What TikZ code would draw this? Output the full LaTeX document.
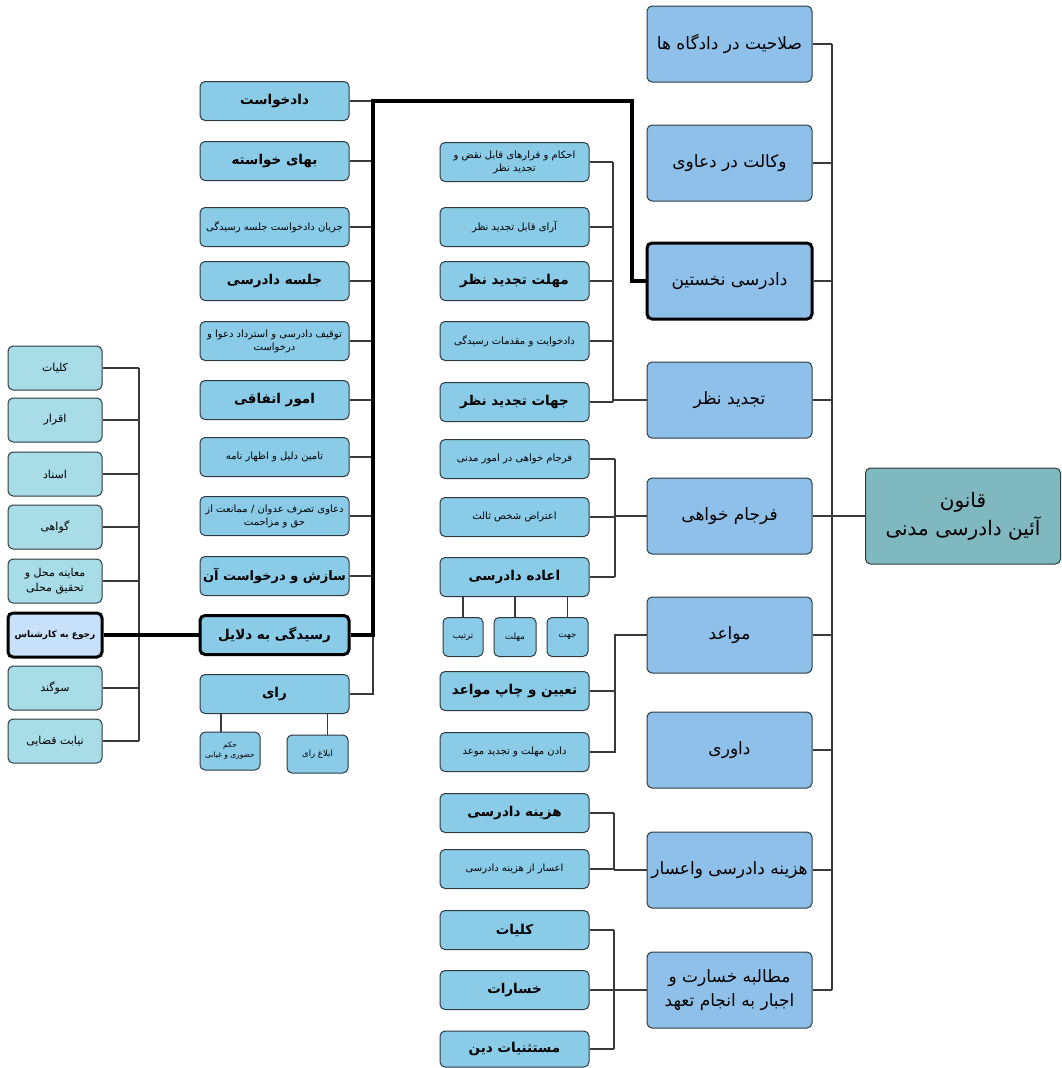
\documentclass[tikz,border=0pt]{standalone}
\usepackage{fontspec}
\newfontfamily\arabicfont[Script=Arabic]{DejaVu Sans}
\TeXXeTstate=1
\newcommand\fa[1]{\beginR #1\endR}
\usetikzlibrary{calc}
\definecolor{edge}{HTML}{2E3A40}
\definecolor{lnc}{HTML}{3A3A3A}
\definecolor{cOne}{HTML}{A8DCE6}
\definecolor{cTwo}{HTML}{8ACCE8}
\definecolor{cFour}{HTML}{8FC0E9}
\definecolor{cRoot}{HTML}{80B8C0}
\definecolor{cSel}{HTML}{C8E1FA}
\begin{document}
\begin{tikzpicture}[x=1pt,y=-1pt,
  box/.style={draw=edge, line width=1pt, rounded corners=5pt, inner sep=1pt, align=center},
  thickbox/.style={box, draw=black, line width=3pt},
  one/.style={box, fill=cOne, minimum width=94pt, minimum height=44pt},
  two/.style={box, fill=cTwo, minimum width=149pt, minimum height=39pt},
  four/.style={box, fill=cFour, minimum width=165pt, minimum height=76pt, font=\arabicfont\fontsize{17}{24}\selectfont},
  fbig/.style={font=\arabicfont\bfseries\fontsize{13.5}{16}\selectfont},
  fsm/.style={font=\arabicfont\fontsize{10}{13}\selectfont},
  fone/.style={font=\arabicfont\fontsize{11}{15}\selectfont},
  ftiny/.style={font=\arabicfont\fontsize{8.5}{10.5}\selectfont},
  ln/.style={draw=lnc, line width=1.1pt},
  thk/.style={draw=black, line width=3.5pt, line join=miter}]
\useasboundingbox[fill=white] (0,0) rectangle (1062,1068);

% ---------- root ----------
\node[box, fill=cRoot, minimum width=195pt, minimum height=96pt, font=\arabicfont\fontsize{20}{28}\selectfont] (root) at (963,516) {\fa{قانون}\\\fa{آئین دادرسی مدنی}};

% ---------- column 4 ----------
\node[four] (s1) at (729.5,44) {\fa{صلاحیت در دادگاه ها}};
\node[four] (s2) at (729.5,163) {\fa{وکالت در دعاوی}};
\node[four, thickbox] (s3) at (729.5,281) {\fa{دادرسی نخستین}};
\node[four] (s4) at (729.5,400) {\fa{تجدید نظر}};
\node[four] (s5) at (729.5,516) {\fa{فرجام خواهی}};
\node[four] (s6) at (729.5,635) {\fa{مواعد}};
\node[four] (s7) at (729.5,750) {\fa{داوری}};
\node[four] (s8) at (729.5,870) {\fa{هزینه دادرسی واعسار}};
\node[four] (s9) at (729.5,990) {\fa{مطالبه خسارت و}\\\fa{اجبار به انجام تعهد}};

% ---------- column 3 ----------
\node[two, fsm] (t1) at (514.5,162) {\fa{احکام و قرارهای قابل نقض و}\\\fa{تجدید نظر}};
\node[two, fsm] (t2) at (514.5,227) {\fa{آرای قابل تجدید نظر}};
\node[two, fbig] (t3) at (514.5,281) {\fa{مهلت تجدید نظر}};
\node[two, fsm] (t4) at (514.5,341) {\fa{دادخوایت و مقدمات رسیدگی}};
\node[two, fbig] (t5) at (514.5,402) {\fa{جهات تجدید نظر}};
\node[two, fsm] (f1) at (514.5,459) {\fa{فرجام خواهی در امور مدنی}};
\node[two, fsm] (f2) at (514.5,517) {\fa{اعتراض شخص ثالث}};
\node[two, fbig] (f3) at (514.5,577) {\fa{اعاده دادرسی}};
\node[box, fill=cTwo, minimum width=41pt, minimum height=39pt, ftiny] (e1) at (567.5,637) {\fa{جهت}};
\node[box, fill=cTwo, minimum width=42pt, minimum height=39pt, ftiny] (e2) at (515,637) {\fa{مهلت}};
\node[box, fill=cTwo, minimum width=40pt, minimum height=39pt, ftiny] (e3) at (463,637) {\fa{ترتیب}};
\node[two, fbig] (m1) at (514.5,691) {\fa{تعیین و چاپ مواعد}};
\node[two, fsm] (m2) at (514.5,752) {\fa{دادن مهلت و تجدید موعد}};
\node[two, fbig] (h1) at (514.5,813) {\fa{هزینه دادرسی}};
\node[two, fsm] (h2) at (514.5,869) {\fa{اعسار از هزینه دادرسی}};
\node[two, fbig] (k1) at (514.5,930) {\fa{کلیات}};
\node[two, fbig] (k2) at (514.5,990) {\fa{خسارات}};
\node[two, fbig, minimum height=36pt] (k3) at (514.5,1049) {\fa{مستثنیات دین}};

% ---------- column 2 ----------
\node[two, fbig] (d1) at (274.5,101) {\fa{دادخواست}};
\node[two, fbig] (d2) at (274.5,161) {\fa{بهای خواسته}};
\node[two, fsm] (d3) at (274.5,227) {\fa{جریان دادخواست جلسه رسیدگی}};
\node[two, fbig] (d4) at (274.5,281) {\fa{جلسه دادرسی}};
\node[two, fsm] (d5) at (274.5,341) {\fa{توقیف دادرسی و استرداد دعوا و}\\\fa{درخواست}};
\node[two, fbig] (d6) at (274.5,400) {\fa{امور اتفاقی}};
\node[two, fsm] (d7) at (274.5,457) {\fa{تامین دلیل و اظهار نامه}};
\node[two, fsm] (d8) at (274.5,516) {\fa{دعاوی تصرف عدوان / ممانعت از}\\\fa{حق و مزاحمت}};
\node[two, font=\arabicfont\bfseries\fontsize{13}{16}\selectfont] (d9) at (274.5,576) {\fa{سازش و درخواست آن}};
\node[two, fbig, thickbox] (d10) at (274.5,635) {\fa{رسیدگی به دلایل}};
\node[two, fbig] (d11) at (274.5,694) {\fa{رای}};
\node[box, fill=cTwo, minimum width=60pt, minimum height=38pt, font=\arabicfont\fontsize{7.5}{10}\selectfont] (hokm) at (230,751) {\fa{حکم}\\\fa{حضوری و غیابی}};
\node[box, fill=cTwo, minimum width=61pt, minimum height=38pt, ftiny] (eblagh) at (317.5,754) {\fa{ابلاغ رای}};

% ---------- column 1 ----------
\node[one, fone] (a1) at (55,368) {\fa{کلیات}};
\node[one, fone] (a2) at (55,420) {\fa{اقرار}};
\node[one, fone] (a3) at (55,474) {\fa{اسناد}};
\node[one, fone] (a4) at (55,527) {\fa{گواهی}};
\node[one, fone] (a5) at (55,581) {\fa{معاینه محل و}\\\fa{تحقیق محلی}};
\node[one, thickbox, fill=cSel, font=\arabicfont\bfseries\fontsize{9}{12}\selectfont] (a6) at (55,635) {\fa{رجوع به کارشناس}};
\node[one, fone] (a7) at (55,688) {\fa{سوگند}};
\node[one, fone] (a8) at (55,741) {\fa{نیابت قضایی}};

% ---------- bracket coordinates ----------
\coordinate (tr) at (832,0);
\coordinate (bT) at (613,0);
\coordinate (bF) at (615,0);
\coordinate (bM) at (615,0);
\coordinate (bH) at (614,0);
\coordinate (bK) at (614,0);
\coordinate (sp) at (373,0);
\coordinate (tp) at (632,0);
\coordinate (cl) at (139,0);

% root trunk
\draw[ln] (root.west) -- (root.west -| tr);
\draw[ln] (s1.east -| tr) -- (s9.east -| tr);
\foreach \n in {s1,s2,s3,s4,s5,s6,s7,s8,s9} \draw[ln] (\n.east) -- (\n.east -| tr);

% tajdid nazar group
\draw[ln] (t1.east -| bT) -- (t5.east -| bT);
\foreach \n in {t1,t2,t3,t4,t5} \draw[ln] (\n.east) -- (\n.east -| bT);
\draw[ln] (s4.west) -- (s4.west -| bT);

% farjam group
\draw[ln] (f1.east -| bF) -- (f3.east -| bF);
\foreach \n in {f1,f2,f3} \draw[ln] (\n.east) -- (\n.east -| bF);
\draw[ln] (s5.west) -- (s5.west -| bF);
\foreach \n in {e1,e2,e3} \draw[ln] (\n.north) -- (\n.north |- f3.south);

% mavaed group
\draw[ln] (s6.west) -- (s6.west -| bM) -- (m2.east -| bM) -- (m2.east);
\draw[ln] (m1.east) -- (m1.east -| bM);

% hazine group
\draw[ln] (h1.east -| bH) -- (h2.east -| bH);
\foreach \n in {h1,h2} \draw[ln] (\n.east) -- (\n.east -| bH);
\draw[ln] (s8.west) -- (s8.west -| bH);

% motalebe group
\draw[ln] (k1.east -| bK) -- (k3.east -| bK);
\foreach \n in {k1,k2,k3} \draw[ln] (\n.east) -- (\n.east -| bK);
\draw[ln] (s9.west) -- (s9.west -| bK);

% column 2 spine
\foreach \n in {d1,d2,d3,d4,d5,d6,d7,d8,d9} \draw[ln] (\n.east) -- (\n.east -| sp);
\draw[ln] (d10.east -| sp) -- (d11.east -| sp) -- (d11.east);
\draw[ln] ([xshift=-9pt]hokm.north) -- ([xshift=-9pt]hokm.north |- d11.south);
\draw[ln] ([xshift=10pt]eblagh.north) -- ([xshift=10pt]eblagh.north |- d11.south);

% thick path
\draw[thk] (d10.east) -- (d10.east -| sp) -- (d1.east -| sp) -- (d1.east -| tp) -- (s3.west -| tp) -- (s3.west);

% column 1
\draw[ln] (a1.east -| cl) -- (a8.east -| cl);
\foreach \n in {a1,a2,a3,a4,a5,a7,a8} \draw[ln] (\n.east) -- (\n.east -| cl);
\draw[thk] (a6.east) -- (d10.west);
\end{tikzpicture}
\end{document}
